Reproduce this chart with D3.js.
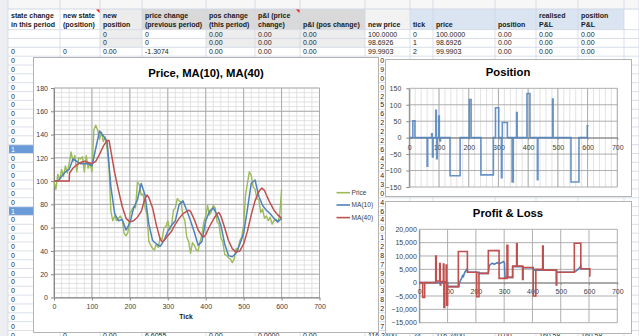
<!DOCTYPE html>
<html>
<head>
<meta charset="utf-8">
<script src="https://d3js.org/d3.v7.min.js"></script>
<style>
html,body{margin:0;padding:0;background:#fff;}
svg{display:block;}
</style>
</head>
<body>
<svg id="sheet" width="639" height="336"></svg>
<script>
// ---------------- worksheet cells ----------------
const colEdges = [8, 60, 100, 142, 206, 255, 300, 365, 410, 433, 495, 536, 578, 624, 639];
const headerTop = ["state change", "new state", "new", "price change", "pos change", "p&l (price", "", "", "", "", "", "realised", "position", ""];
const headerBottom = ["in this period", "(position)", "position", "(previous period)", "(this period)", "change)", "p&l (pos change)", "new price", "tick", "price", "position", "P&L", "P&L", ""];
const headerFills = ["#ffffff", "#ffffff", "#ececec", "#d9d9d9", "#d9d9d9", "#d9d9d9", "#d9d9d9", "#f2f2f2", "#dbe5f1", "#dbe5f1", "#dbe5f1", "#dbe5f1", "#dbe5f1", "#ffffff"];
const sheetRowA = ["", "", "0", "0", "0.00", "0.00", "0.00", "100.0000", "0", "100.0000", "0.00", "0.00", "0.00", ""];
const sheetRowB = ["", "", "0", "0", "0.00", "0.00", "0.00", "98.6926", "1", "98.6926", "0.00", "0.00", "0.00", ""];
const sheetRowC = ["0", "0", "0.00", "-1.3074", "0.00", "0.00", "0.00", "99.9903", "2", "99.9903", "0.00", "0.00", "0.00", ""];
const sheetRowLast = ["0", "0", "0.00", "6.6055", "0.00", "0.0000", "0.00", "116.2400", "24", "116.2400", "0.00", "160.58", "160.58", ""];
// "state change" column, from the third data row down
const stateCol = ["0","0","0","0","0","0","0","0","0","0","0","1","0","0","0","0","0","0","1","0","0","0","0","0","0","0","0","0","0","0","0","0","0"];
// the sliver of the "new price" column left between the charts, fourth data row down
const newPriceSliver = ["0","9","0","0","2","5","6","2","2","2","6","4","2","4","3","0","4","6","4","0","1","2","8","7","9","0","3","8","2","0","7"];

// ---------------- chart series ----------------
const priceTickStep = 5;
const priceValues = [100,93,106,101,110,104,113,107,115,125,117,122,108,120,119,121,108,122,111,116,
  108,144,148,144,136,142,134,138,128,112,74,66,70,66,68,70,67,55,53,56,
  72,75,78,77,99,97,88,89,77,72,48,45,42,41,46,43,51,50,60,61,
  66,58,62,75,77,85,83,82,70,66,52,48,38,47,45,41,40,48,54,65,
  70,79,71,74,79,77,65,63,51,48,37,36,34,33,30,33,42,41,49,52,
  62,88,98,108,105,95,93,85,84,73,76,68,70,66,69,63,66,67,65,70,93];
const ma10TickStep = 10;
const ma10Values = [100,100,104,108,110,119,117,115,115,115,113,128,143,139,134,95,72,66,67,58,
  64,77,84,98,88,63,49,46,44,49,57,62,66,80,83,75,66,56,45,48,
  66,74,77,71,62,46,36,35,38,46,55,76,98,101,87,79,75,72,68,65,68];
const ma40Ticks = [0,40,41,50,60,70,80,90,100,110,120,130,140,145,150,160,170,180,190,200,210,220,230,240,245,250,260,270,280,285,290,300,310,320,330,340,350,355,360,370,380,390,395,400,410,420,430,435,440,450,460,470,480,490,500,510,520,530,540,548,555,560,570,580,590,600];
const ma40Values = [100,100,107,111,114,116,117,116,115,117,123,130,135,135,126,107,92,78,68,65,66,69,74,85,88,86,77,62,50,48,49,53,57,63,68,72,74,75,74,67,58,53,52,54,61,67,72,73,70,60,49,42,39,40,46,57,71,83,91,94,92,88,81,75,71,68];

const positionTicks = [0,12,19,60,62,75,77,78,80,89,91,92,94,99,101,103,105,137,171,202,208,241,283,290,301,310,312,313,330,346,350,361,363,396,406,431,433,482,484,544,571,599,603];
const positionValues = [0,51,0,-87,0,12,0,-59,0,83,0,-64,0,66,0,-10,0,-116,0,116,0,-113,0,91,0,-122,0,46,0,-135,0,76,0,134,0,-128,0,117,0,-135,0,36,36];

const positionPnlTicks = [0,12,19,58,60,72,74,76,85,87,90,95,97,100,138,170,203,211,244,282,310,313,330,344,346,365,367,403,412,436,438,484,486,548,571,603,604];
const positionPnlValues = [0,-5500,0,10000,600,7200,-900,400,7000,-9300,300,6600,-8400,-1500,11700,3900,-5300,3500,12000,1600,14000,2000,6200,14600,6200,1200,5700,-5000,5000,13700,4700,-900,3900,14800,5200,2400,2400];

const realisedPnlTicks = [0,100,100,140,142,146,150,153,156,159,162,165,168,170,171,211,211,244,247,252,258,264,270,276,282,288,294,298,301,303,330,330,367,367,403,405,486,486,548,552,556,560,564,568,571,571,603];
const realisedPnlValues = [0,0,-1500,-1500,0,900,1800,2600,2300,3400,4100,4600,5000,4700,3900,3900,3500,3500,6200,6900,7300,6900,7200,7500,7100,7400,7700,7900,7400,2000,2000,6000,6000,5600,5600,4700,4700,3900,3900,4200,4500,4900,5300,5900,6200,5200,5200];

const tickAxisValues = [0,100,200,300,400,500,600,700];
const priceAxisValues = [0,20,40,60,80,100,120,140,160,180];
const positionAxisValues = [-150,-100,-50,0,50,100,150];
const pnlAxisValues = [-15000,-10000,-5000,0,5000,10000,15000,20000];
const legendNames = ["Price", "MA(10)", "MA(40)"];
const seriesColors = {price: "#9bbb59", ma10: "#4f81bd", ma40: "#c0504d", position: "#4f81bd", realised: "#4f81bd", positionPnl: "#c0504d"};

// ---------------- worksheet ----------------
const sheetFont = '"Liberation Sans", Arial, sans-serif';
const svg = d3.select("#sheet");
svg.append("rect").attr("width", 639).attr("height", 336).attr("fill", "#ffffff");

const rowH = 8.85, firstRowTop = 29.6, headerTopY = 9;
const nRows = 35;
const rowTop = k => firstRowTop + k * rowH;

const sheet = svg.append("g");
// row-header strip on the left
sheet.append("rect").attr("x", 0).attr("y", 0).attr("width", 8).attr("height", 336).attr("fill", "#eceef1");
// strip above the header
sheet.append("rect").attr("x", 8).attr("y", 0).attr("width", 631).attr("height", headerTopY).attr("fill", "#f7f7f7");
// header fills
colEdges.slice(0, -1).forEach((x0, i) => {
  sheet.append("rect").attr("x", x0).attr("y", headerTopY).attr("width", colEdges[i + 1] - x0)
    .attr("height", firstRowTop - headerTopY).attr("fill", headerFills[i]);
});
// shaded cells in the first two data rows
[2, 4, 5, 6].forEach(ci => {
  sheet.append("rect").attr("x", colEdges[ci]).attr("y", firstRowTop).attr("width", colEdges[ci + 1] - colEdges[ci])
    .attr("height", rowH * 2).attr("fill", "#ededed");
});
// highlighted state cells
stateCol.forEach((v, i) => {
  if (v === "1") {
    sheet.append("rect").attr("x", colEdges[0] + 1).attr("y", rowTop(i + 2) + 0.5)
      .attr("width", colEdges[1] - colEdges[0] - 1).attr("height", rowH - 1).attr("fill", "#6a9bd8");
  }
});
// grid lines
const gridCol = "#d0d7e5";
d3.range(nRows + 1).forEach(k => {
  const y = rowTop(k);
  sheet.append("line").attr("x1", 8).attr("x2", 639).attr("y1", y).attr("y2", y).attr("stroke", gridCol).attr("stroke-width", 0.8);
});
sheet.append("line").attr("x1", 8).attr("x2", 639).attr("y1", headerTopY).attr("y2", headerTopY).attr("stroke", gridCol);
colEdges.forEach(x => {
  sheet.append("line").attr("x1", x).attr("x2", x).attr("y1", 0).attr("y2", 336).attr("stroke", gridCol).attr("stroke-width", 0.8);
});
// header texts
colEdges.slice(0, -1).forEach((x0, i) => {
  if (headerTop[i]) sheet.append("text").attr("x", x0 + 3).attr("y", 17.5).attr("font-family", sheetFont)
    .attr("font-size", 7).attr("font-weight", "bold").attr("fill", "#1a1a1a").text(headerTop[i]);
  if (headerBottom[i]) sheet.append("text").attr("x", x0 + 3).attr("y", 26.5).attr("font-family", sheetFont)
    .attr("font-size", 7).attr("font-weight", "bold").attr("fill", "#1a1a1a").text(headerBottom[i]);
});
// comment markers
[100, 300].forEach(x => {
  sheet.append("path").attr("d", `M${x - 4},${headerTopY + 0.5} L${x - 0.5},${headerTopY + 0.5} L${x - 0.5},${headerTopY + 4} Z`).attr("fill", "#e02020");
});
// cell values
function cellText(x, k, v, col) {
  sheet.append("text").attr("x", x).attr("y", rowTop(k) + 7)
    .attr("font-family", sheetFont).attr("font-size", 7).attr("fill", col || "#1a1a1a").text(v);
}
[[0, sheetRowA], [1, sheetRowB], [2, sheetRowC], [nRows - 1, sheetRowLast]].forEach(([k, r]) => {
  r.forEach((v, ci) => { if (v && ci > 0) cellText(colEdges[ci] + 3, k, v); });
});
stateCol.forEach((v, i) => cellText(colEdges[0] + 3, i + 2, v, v === "1" ? "#ffffff" : "#1a1a1a"));
newPriceSliver.forEach((v, i) => cellText(380.3, i + 3, v));

// ---------------- chart helpers ----------------
const chartFont = '"Liberation Sans", Arial, sans-serif';
function chartArea(x, y, w, h) {
  const g = svg.append("g");
  g.append("rect").attr("x", x + 0.5).attr("y", y + 0.5).attr("width", w).attr("height", h)
    .attr("fill", "#ffffff").attr("stroke", "#b4b4b4").attr("stroke-width", 1);
  return g;
}
function title(g, text, cx, y) {
  g.append("text").attr("x", cx).attr("y", y).attr("text-anchor", "middle")
    .attr("font-family", chartFont).attr("font-weight", "bold").attr("font-size", 11.3)
    .attr("fill", "#000").text(text);
}
function styleAxis(sel) {
  sel.attr("font-family", chartFont).attr("font-size", 7);
  sel.select(".domain").attr("stroke", "#868686");
  sel.selectAll(".tick line").attr("stroke", "#868686");
  sel.selectAll(".tick text").attr("fill", "#404040");
}
function vLines(g, scale, vals, y0, y1, col, w) {
  g.append("g").selectAll("line").data(vals).join("line")
    .attr("x1", d => scale(d)).attr("x2", d => scale(d)).attr("y1", y0).attr("y2", y1)
    .attr("stroke", col).attr("stroke-width", w);
}
function hLines(g, scale, vals, x0, x1, col, w) {
  g.append("g").selectAll("line").data(vals).join("line")
    .attr("y1", d => scale(d)).attr("y2", d => scale(d)).attr("x1", x0).attr("x2", x1)
    .attr("stroke", col).attr("stroke-width", w);
}

// ---------------- Price, MA(10), MA(40) ----------------
{
  const g = chartArea(33, 57, 345, 275);
  const x = d3.scaleLinear().domain([0, 700]).range([54, 319.5]);
  const y = d3.scaleLinear().domain([0, 180]).range([297.5, 88]);
  title(g, "Price, MA(10), MA(40)", 206, 76.5);
  vLines(g, x, d3.range(0, 701, 20), y(180), y(0), "#dcdcdc", 0.8);
  hLines(g, y, d3.range(0, 181, 4), x(0), x(700), "#dcdcdc", 0.8);
  vLines(g, x, tickAxisValues, y(180), y(0), "#a6a6a6", 0.9);
  hLines(g, y, priceAxisValues, x(0), x(700), "#a6a6a6", 0.9);
  const ay = g.append("g").attr("transform", `translate(${x(0)},0)`)
    .call(d3.axisLeft(y).tickValues(priceAxisValues).tickSize(3).tickSizeOuter(0).tickPadding(3));
  const ax = g.append("g").attr("transform", `translate(0,${y(0)})`)
    .call(d3.axisBottom(x).tickValues(tickAxisValues).tickSize(3).tickSizeOuter(0).tickPadding(3.5));
  styleAxis(ay); styleAxis(ax);
  const line = d3.line().x(d => x(d[0])).y(d => y(d[1]));
  const priceData = priceValues.map((v, i) => [i * priceTickStep, v]);
  const ma10Data = ma10Values.map((v, i) => [i * ma10TickStep, v]);
  const ma40Data = ma40Ticks.map((t, i) => [t, ma40Values[i]]);
  g.append("path").attr("d", line(priceData)).attr("fill", "none").attr("stroke", seriesColors.price).attr("stroke-width", 1.4).attr("stroke-linejoin", "round");
  g.append("path").attr("d", line(ma10Data)).attr("fill", "none").attr("stroke", seriesColors.ma10).attr("stroke-width", 1.5).attr("stroke-linejoin", "round");
  g.append("path").attr("d", line(ma40Data)).attr("fill", "none").attr("stroke", seriesColors.ma40).attr("stroke-width", 1.5).attr("stroke-linejoin", "round");
  g.append("text").attr("x", 186).attr("y", 319).attr("text-anchor", "middle").attr("font-family", chartFont)
    .attr("font-weight", "bold").attr("font-size", 6.8).attr("fill", "#222").text("Tick");
  const legCols = [seriesColors.price, seriesColors.ma10, seriesColors.ma40];
  const legY = [192.7, 205, 217.6];
  legendNames.forEach((n, i) => {
    g.append("line").attr("x1", 336.5).attr("x2", 350).attr("y1", legY[i]).attr("y2", legY[i]).attr("stroke", legCols[i]).attr("stroke-width", 1.6);
    g.append("text").attr("x", 351.5).attr("y", legY[i] + 2.3).attr("font-family", chartFont).attr("font-size", 6.6).attr("fill", "#404040").text(n);
  });
}

// ---------------- Position ----------------
{
  const g = chartArea(385, 59, 246, 137);
  const x = d3.scaleLinear().domain([0, 700]).range([409.3, 617.3]);
  const y = d3.scaleLinear().domain([-150, 150]).range([187, 88.3]);
  title(g, "Position", 508, 75.8);
  vLines(g, x, d3.range(0, 701, 20), y(150), y(-150), "#dcdcdc", 0.8);
  vLines(g, x, tickAxisValues, y(150), y(-150), "#a6a6a6", 0.9);
  hLines(g, y, positionAxisValues, x(0), x(700), "#a6a6a6", 0.9);
  const ay = g.append("g").attr("transform", `translate(${x(0)},0)`)
    .call(d3.axisLeft(y).tickValues(positionAxisValues).tickSize(3).tickSizeOuter(0).tickPadding(5));
  const ax = g.append("g").attr("transform", `translate(0,${y(0)})`)
    .call(d3.axisBottom(x).tickValues(tickAxisValues).tickSize(2).tickSizeOuter(0).tickPadding(5));
  styleAxis(ay); styleAxis(ax);
  const line = d3.line().x(d => x(d[0])).y(d => y(d[1])).curve(d3.curveStepAfter);
  const posData = positionTicks.map((t, i) => [t, positionValues[i]]);
  g.append("path").attr("d", line(posData)).attr("fill", "none").attr("stroke", seriesColors.position)
    .attr("stroke-width", 1.6).attr("stroke-opacity", 0.85);
}

// ---------------- Profit & Loss ----------------
{
  const g = chartArea(385, 201, 246, 132);
  const x = d3.scaleLinear().domain([0, 700]).range([419.3, 617.3]);
  const y = d3.scaleLinear().domain([-15000, 20000]).range([322.7, 229.3]);
  title(g, "Profit & Loss", 508, 216.5);
  vLines(g, x, tickAxisValues, y(20000), y(-15000), "#a6a6a6", 0.9);
  hLines(g, y, pnlAxisValues, x(0), x(700), "#a6a6a6", 0.9);
  const ay = g.append("g").attr("transform", `translate(${x(0)},0)`)
    .call(d3.axisLeft(y).tickValues(pnlAxisValues).tickSize(0).tickSizeOuter(0).tickPadding(2.5).tickFormat(d3.format(",")));
  const ax = g.append("g").attr("transform", `translate(0,${y(0)})`)
    .call(d3.axisBottom(x).tickValues(tickAxisValues).tickSize(2).tickSizeOuter(0).tickPadding(4.5));
  styleAxis(ay); styleAxis(ax);
  const lin = d3.line().x(d => x(d[0])).y(d => y(d[1]));
  const step = d3.line().x(d => x(d[0])).y(d => y(d[1])).curve(d3.curveStepAfter);
  const realData = realisedPnlTicks.map((t, i) => [t, realisedPnlValues[i]]);
  const posPnlData = positionPnlTicks.map((t, i) => [t, positionPnlValues[i]]);
  g.append("path").attr("d", lin(realData)).attr("fill", "none").attr("stroke", seriesColors.realised).attr("stroke-width", 1.6);
  g.append("path").attr("d", step(posPnlData)).attr("fill", "none").attr("stroke", seriesColors.positionPnl).attr("stroke-width", 1.6);
}
</script>
</body>
</html>
